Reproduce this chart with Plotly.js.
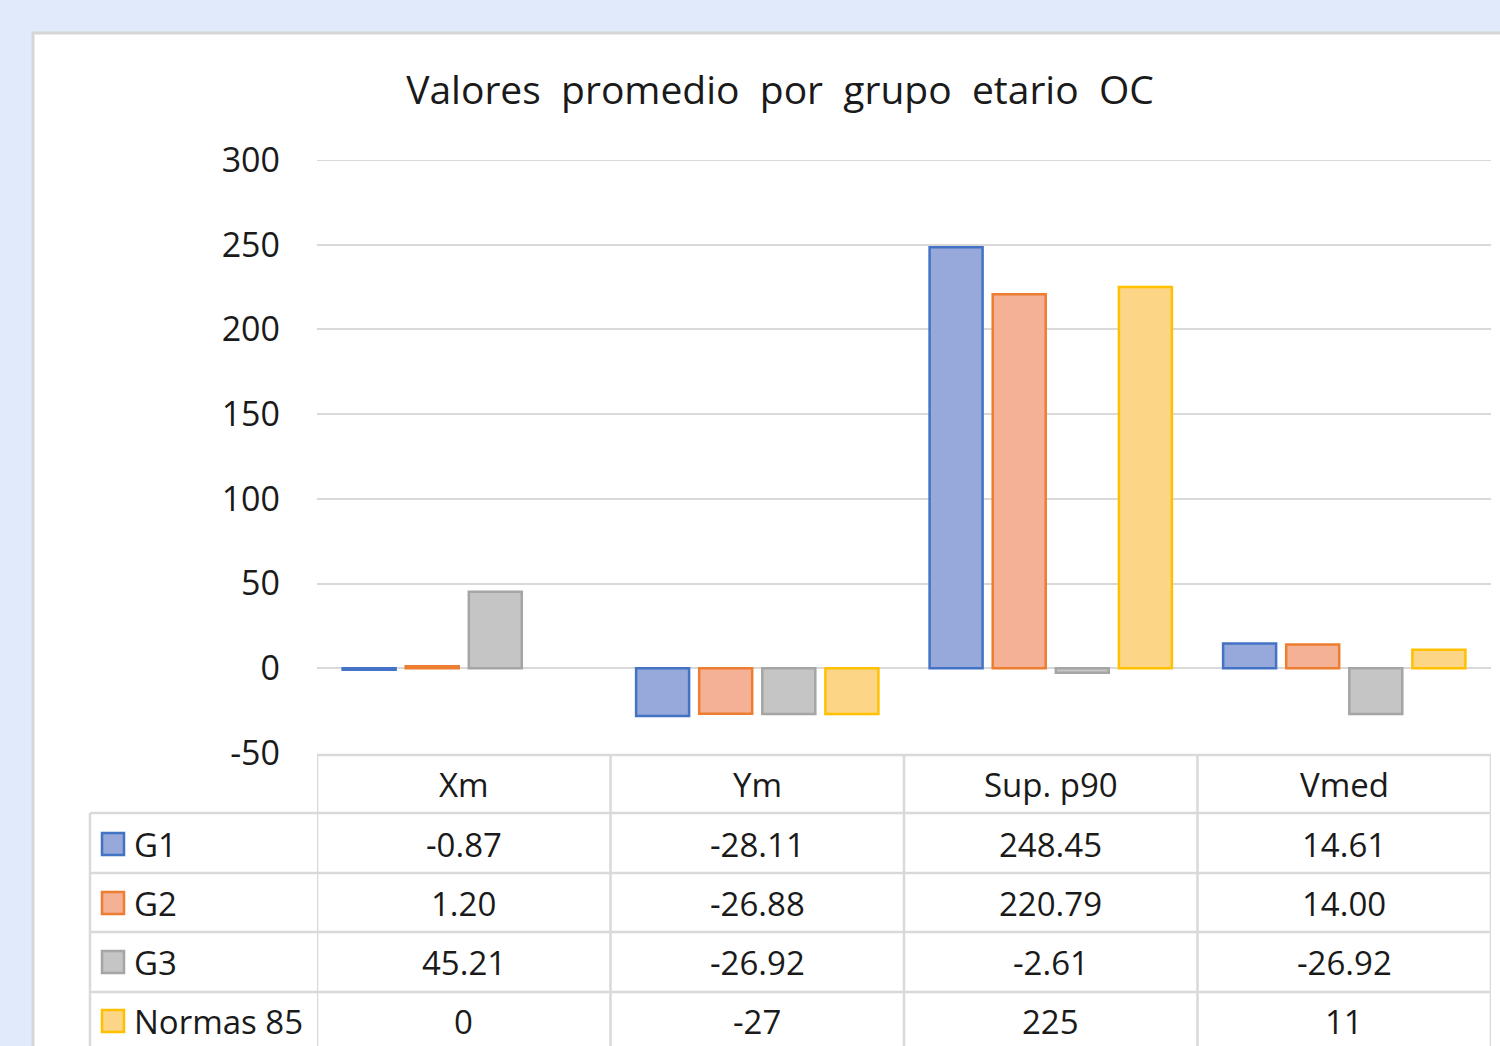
<!DOCTYPE html>
<html>
<head>
<meta charset="utf-8">
<script src="https://cdn.plot.ly/plotly-3.0.1.min.js"></script>
<style>html,body{margin:0;padding:0;background:#e1eafa;}#chart{width:1500px;height:1046px;}</style>
</head>
<body>
<div id="chart"></div>
<script>
// ---- data ----
const categories = ['Xm', 'Ym', 'Sup. p90', 'Vmed'];
const seriesNames = ['G1', 'G2', 'G3', 'Normas 85'];
const G1 = [-0.87, -28.11, 248.45, 14.61];
const G2 = [1.20, -26.88, 220.79, 14.00];
const G3 = [45.21, -26.92, -2.61, -26.92];
const N85 = [0, -27, 225, 11];
const G1Labels = ['-0.87', '-28.11', '248.45', '14.61'];
const G2Labels = ['1.20', '-26.88', '220.79', '14.00'];
const G3Labels = ['45.21', '-26.92', '-2.61', '-26.92'];
const N85Labels = ['0', '-27', '225', '11'];
const yTicks = [-50, 0, 50, 100, 150, 200, 250, 300];

// ---- styles ----
const fills = ['#97a8da', '#f4b196', '#c5c5c5', '#fdd586'];
const borders = ['#4472c4', '#ed7d31', '#a5a5a5', '#ffc000'];
const gridColor = '#d9d9d9';
const textColor = '#1a1a1a';
const FONT = 'Open Sans, sans-serif';

const W = 1500, H = 1046;
const plotL = 317, plotR = 1491, plotT = 160, plotB = 753;
const px = x => (x - plotL) / (plotR - plotL);
const py = y => (plotB - y) / (plotB - plotT);

const allValues = [G1, G2, G3, N85];
const allLabels = [G1Labels, G2Labels, G3Labels, N85Labels];

const traces = allValues.map((vals, i) => ({
  type: 'bar',
  name: seriesNames[i],
  x: categories,
  y: vals,
  marker: {color: fills[i], line: {color: borders[i], width: vals.map(v => v === 0 ? 0 : 2.5)}},
  hoverinfo: 'x+y+name'
}));

const shapes = [];
const annotations = [];

// white chart area
shapes.push({type: 'rect', xref: 'paper', yref: 'paper', layer: 'below',
  x0: px(33), x1: px(1520), y0: py(33), y1: py(1070),
  fillcolor: '#ffffff', line: {color: '#d6d6d6', width: 3}});

// top gridline (at range edge)
shapes.push({type: 'line', xref: 'paper', yref: 'y', layer: 'below', x0: 0, x1: 1,
  y0: yTicks[yTicks.length - 1], y1: yTicks[yTicks.length - 1], line: {color: gridColor, width: 2}});

// table geometry
const rowLines = [755, 813, 873, 932, 992];
const rowCenters = [844, 903, 962, 1021];
const headerCenter = 784;
const tableBottom = 1060;
const leftX = 90;
const lineStyle = {color: gridColor, width: 2.5};

shapes.push({type: 'line', xref: 'x', yref: 'paper', x0: -0.5, x1: categories.length - 0.5,
  y0: py(rowLines[0]), y1: py(rowLines[0]), line: lineStyle});
for (let r = 1; r < rowLines.length; r++) {
  shapes.push({type: 'line', xref: 'paper', yref: 'paper', x0: px(leftX), x1: 1,
    y0: py(rowLines[r]), y1: py(rowLines[r]), line: lineStyle});
}
for (let c = 0; c <= categories.length; c++) {
  shapes.push({type: 'line', xref: 'x', yref: 'paper', x0: c - 0.5, x1: c - 0.5,
    y0: py(rowLines[0]), y1: py(tableBottom), line: lineStyle});
}
shapes.push({type: 'line', xref: 'paper', yref: 'paper', x0: px(leftX), x1: px(leftX),
  y0: py(rowLines[1]), y1: py(tableBottom), line: lineStyle});

categories.forEach((c, i) => {
  annotations.push({xref: 'x', yref: 'paper', x: i, y: py(headerCenter), text: c,
    showarrow: false, xanchor: 'center', yanchor: 'middle',
    font: {family: FONT, size: 33, color: textColor}});
});

seriesNames.forEach((name, r) => {
  const cy = rowCenters[r];
  shapes.push({type: 'rect', xref: 'paper', yref: 'paper',
    x0: px(102), x1: px(124), y0: py(cy - 11), y1: py(cy + 11),
    fillcolor: fills[r], line: {color: borders[r], width: 2.5}});
  annotations.push({xref: 'paper', yref: 'paper', x: px(132), y: py(cy), text: name,
    showarrow: false, xanchor: 'left', yanchor: 'middle',
    font: {family: FONT, size: 33, color: textColor}});
  allLabels[r].forEach((lab, i) => {
    annotations.push({xref: 'x', yref: 'paper', x: i, y: py(cy), text: lab,
      showarrow: false, xanchor: 'center', yanchor: 'middle',
      font: {family: FONT, size: 33, color: textColor}});
  });
});

const layout = {
  width: W, height: H,
  paper_bgcolor: '#e1eafa',
  plot_bgcolor: 'rgba(0,0,0,0)',
  margin: {l: plotL, r: W - plotR, t: plotT, b: H - plotB, pad: 0},
  title: {text: 'Valores  promedio  por  grupo  etario  OC', xref: 'container', x: 780 / W,
    xanchor: 'center', y: 1 - 90 / H, yanchor: 'middle',
    font: {family: FONT, size: 39, color: textColor}},
  barmode: 'group',
  bargap: 0.14,
  bargroupgap: 0.16,
  showlegend: false,
  xaxis: {type: 'category', range: [-0.5, categories.length - 0.5], showticklabels: false,
    showgrid: false, zeroline: false, showline: false, ticks: '', fixedrange: true},
  yaxis: {range: [-50, 300], tickvals: yTicks, ticktext: yTicks.map(String),
    showgrid: true, gridcolor: gridColor, gridwidth: 2,
    zeroline: true, zerolinecolor: gridColor, zerolinewidth: 2,
    showline: false, ticks: '', ticklabelstandoff: 36,
    tickfont: {family: FONT, size: 34, color: textColor}, fixedrange: true},
  shapes: shapes,
  annotations: annotations
};

Plotly.newPlot('chart', traces, layout, {displayModeBar: false, staticPlot: true});
</script>
</body>
</html>
